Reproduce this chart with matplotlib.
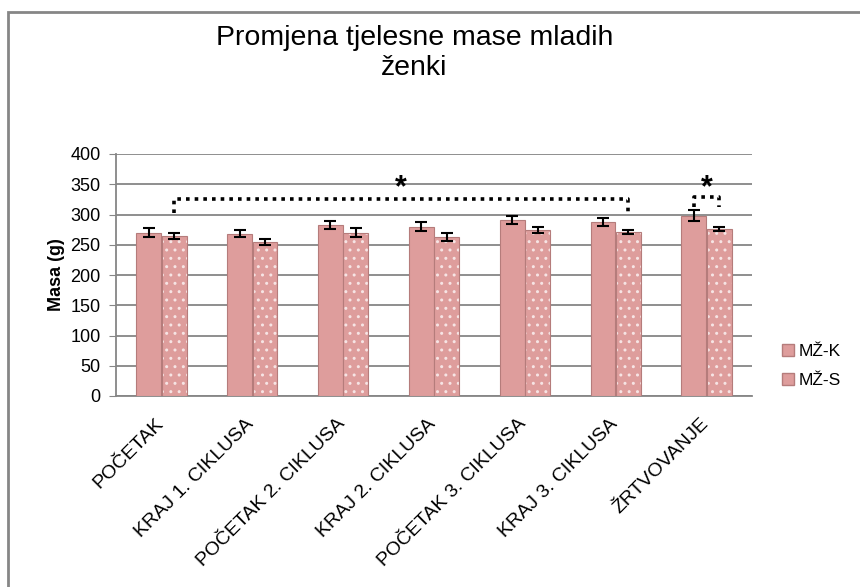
import numpy as np
import matplotlib.pyplot as plt
from matplotlib.patches import Rectangle
from matplotlib.transforms import ScaledTranslation

plt.rcParams['font.family'] = ['Liberation Sans', 'DejaVu Sans']

categories = ['POČETAK', 'KRAJ 1. CIKLUSA', 'POČETAK 2. CIKLUSA', 'KRAJ 2. CIKLUSA',
              'POČETAK 3. CIKLUSA', 'KRAJ 3. CIKLUSA', 'ŽRTVOVANJE']
mz_k = [270, 268, 283, 280, 291, 288, 298]
mz_k_err = [7, 6, 7, 7, 7, 7, 9]
mz_s = [265, 254, 270, 263, 275, 271, 276]
mz_s_err = [5, 5, 7, 6, 5, 3, 4]
series_names = ['MŽ-K', 'MŽ-S']

bar_color = '#DE9D9C'
edge_color = '#B57C7B'

fig = plt.figure(figsize=(8.6, 5.87), dpi=100)
ax = fig.add_axes([116 / 860, 1 - 396 / 587, 636 / 860, 242 / 587])

x = np.arange(len(categories))
w = 0.275
off = 0.14

ax.bar(x - off, mz_k, w, color=bar_color, edgecolor=edge_color, linewidth=0.8, zorder=3)
ax.bar(x + off, mz_s, w, color=bar_color, edgecolor='#F6E4E4', hatch='..', linewidth=0, zorder=3)
ax.bar(x + off, mz_s, w, fill=False, edgecolor=edge_color, linewidth=0.8, zorder=4)
ax.errorbar(x - off, mz_k, yerr=mz_k_err, fmt='none', ecolor='black', elinewidth=1.5,
            capsize=4, capthick=1.5, zorder=5)
ax.errorbar(x + off, mz_s, yerr=mz_s_err, fmt='none', ecolor='black', elinewidth=1.5,
            capsize=4, capthick=1.5, zorder=5)

# significance brackets
dot = (0, (1, 1.4))
x1, x2 = x[0] + off, x[5] + off
ax.plot([x1, x1, x2, x2], [302, 325, 325, 302], color='black', lw=2.6, linestyle=dot, zorder=6)
ax.text((x1 + x2) / 2, 343, '*', ha='center', va='center', fontsize=22, fontweight='bold')
x3, x4 = x[6] - off, x[6] + off
ax.plot([x3, x3, x4, x4], [312, 329, 329, 312], color='black', lw=2.6, linestyle=dot, zorder=6)
ax.text(x[6], 343, '*', ha='center', va='center', fontsize=22, fontweight='bold')

ax.set_xlim(-0.5, len(categories) - 0.5)
ax.set_ylim(0, 400)
ax.set_yticks(np.arange(0, 401, 50))
ax.tick_params(axis='y', labelsize=13, length=5, color='#868686', direction='out', pad=6)
ax.tick_params(axis='x', length=0, labelsize=14, pad=14)
ax.set_xticks(x)
ax.set_xticklabels(categories, rotation=45, ha='right', va='top', rotation_mode='anchor')
shift = ScaledTranslation(-7 / 100, 0, fig.dpi_scale_trans)
for lab in ax.get_xticklabels():
    lab.set_transform(lab.get_transform() + shift)
ax.yaxis.grid(True, color='#868686', lw=1.3, zorder=0)
ax.set_axisbelow(True)
for s in ['top', 'right']:
    ax.spines[s].set_visible(False)
ax.spines['left'].set_color('#868686')
ax.spines['bottom'].set_color('#868686')
ax.spines['left'].set_linewidth(1.3)
ax.spines['bottom'].set_linewidth(1.3)
ax.set_ylabel('Masa (g)', fontsize=13, fontweight='bold', labelpad=4)

fig.text(0.482, 0.958, 'Promjena tjelesne mase mladih\nženki', ha='center', va='top',
         fontsize=20.5, linespacing=1.2)

h1 = Rectangle((0, 0), 1, 1, facecolor=bar_color, edgecolor=edge_color)
h2 = Rectangle((0, 0), 1, 1, facecolor=bar_color, edgecolor=edge_color)
fig.legend([h1, h2], series_names, loc='center left', bbox_to_anchor=(766 / 860, 1 - 366 / 587),
           frameon=False, fontsize=12.5, handlelength=0.7, handleheight=0.7,
           handletextpad=0.3, labelspacing=0.8)

# chart border
fig.add_artist(Rectangle((8 / 860, -0.1), 1.2, 1 - 12 / 587 + 0.1, transform=fig.transFigure,
                         fill=False, edgecolor='#868686', lw=2))

fig.savefig('out.png', dpi=100)
